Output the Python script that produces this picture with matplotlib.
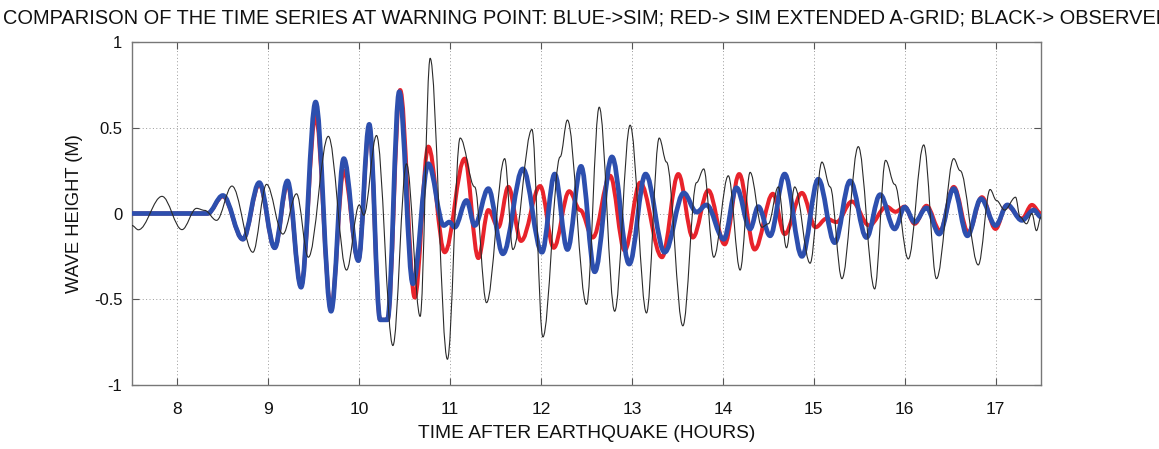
import matplotlib
matplotlib.use("Agg")
import matplotlib.pyplot as plt
from matplotlib import font_manager
from matplotlib.path import Path
from matplotlib.patches import PathPatch

# ---------------- data (extrema / turning points) ----------------
blue_t = [7.50, 8.33, 8.50, 8.72, 8.90, 9.07, 9.21, 9.36, 9.52, 9.69, 9.83, 9.99,
          10.11, 10.23, 10.31, 10.44, 10.59, 10.76, 10.93, 10.99, 11.05, 11.18, 11.27,
          11.42, 11.58, 11.80, 12.01, 12.15, 12.29, 12.44, 12.59, 12.78, 12.97, 13.15,
          13.36, 13.57, 13.71, 13.82, 14.01, 14.15, 14.30, 14.39, 14.52, 14.68, 14.87,
          15.05, 15.23, 15.40, 15.58, 15.73, 15.89, 16.00, 16.11, 16.24, 16.38, 16.54,
          16.69, 16.84, 17.00, 17.13, 17.29, 17.42, 17.50]
blue_v = [0.0, 0.0, 0.105, -0.15, 0.18, -0.20, 0.19, -0.43, 0.65, -0.57, 0.32, -0.275,
          0.52, -0.62, -0.62, 0.71, -0.41, 0.29, -0.07, -0.05, -0.08, 0.076, -0.07,
          0.145, -0.235, 0.26, -0.226, 0.23, -0.21, 0.275, -0.34, 0.33, -0.295, 0.23,
          -0.226, 0.12, 0.008, 0.05, -0.15, 0.15, -0.09, 0.04, -0.13, 0.23, -0.25,
          0.20, -0.17, 0.19, -0.14, 0.11, -0.09, 0.037, -0.05, 0.033, -0.12, 0.145,
          -0.13, 0.086, -0.07, 0.05, -0.04, 0.02, -0.02]

red_t = [7.50, 8.33, 8.50, 8.72, 8.90, 9.07, 9.21, 9.36, 9.52, 9.69, 9.83, 9.99,
         10.11, 10.23, 10.31, 10.45, 10.61, 10.76, 10.94, 11.16, 11.31, 11.42, 11.53,
         11.64, 11.78, 11.99, 12.14, 12.31, 12.43, 12.57, 12.76, 12.92, 13.09, 13.33,
         13.51, 13.67, 13.84, 14.02, 14.18, 14.35, 14.55, 14.68, 14.87, 15.02, 15.14,
         15.25, 15.42, 15.61, 15.80, 15.90, 16.00, 16.11, 16.24, 16.39, 16.54, 16.70,
         16.85, 17.00, 17.12, 17.29, 17.40, 17.50]
red_v = [0.0, 0.0, 0.10, -0.15, 0.17, -0.20, 0.17, -0.42, 0.57, -0.55, 0.25, -0.27,
         0.50, -0.62, -0.62, 0.72, -0.49, 0.39, -0.226, 0.32, -0.26, 0.02, -0.08,
         0.155, -0.16, 0.16, -0.20, 0.13, 0.02, -0.14, 0.22, -0.216, 0.18, -0.255,
         0.23, -0.14, 0.135, -0.18, 0.23, -0.21, 0.115, -0.12, 0.12, -0.08, -0.03,
         -0.05, 0.07, -0.07, 0.04, 0.01, 0.04, -0.06, 0.045, -0.10, 0.155, -0.11,
         0.095, -0.09, 0.047, -0.03, 0.05, 0.0]

black_t = [7.50, 7.57, 7.83, 8.05, 8.21, 8.30, 8.43, 8.60, 8.83, 8.98, 9.16, 9.31,
           9.44, 9.66, 9.86, 10.00, 10.05, 10.19, 10.37, 10.52, 10.67, 10.78, 10.97,
           11.11, 11.27, 11.40, 11.60, 11.69, 11.90, 12.02, 12.21, 12.29, 12.50, 12.64,
           12.81, 12.98, 13.16, 13.30, 13.38, 13.56, 13.71, 13.79, 13.90, 14.06, 14.19,
           14.30, 14.43, 14.50, 14.61, 14.70, 14.79, 14.96, 15.09, 15.18, 15.31, 15.49,
           15.67, 15.79, 15.89, 16.04, 16.21, 16.35, 16.54, 16.61, 16.81, 16.94, 17.01,
           17.10, 17.22, 17.27, 17.34, 17.40, 17.45, 17.50]
black_v = [-0.07, -0.095, 0.10, -0.094, 0.03, 0.018, -0.04, 0.16, -0.226, 0.17, -0.12,
           0.115, -0.255, 0.45, -0.33, 0.05, -0.01, 0.455, -0.77, 0.29, -0.60, 0.905,
           -0.85, 0.44, 0.155, -0.52, 0.32, -0.21, 0.49, -0.72, 0.33, 0.545, -0.53,
           0.62, -0.57, 0.515, -0.58, 0.44, 0.30, -0.655, 0.18, 0.26, -0.255, 0.22,
           -0.33, 0.24, -0.08, -0.06, 0.155, -0.20, 0.155, -0.29, 0.30, 0.155, -0.38,
           0.39, -0.44, 0.31, 0.17, -0.265, 0.40, -0.38, 0.32, 0.25, -0.30, 0.14,
           0.076, 0.02, 0.095, -0.02, -0.06, 0.0, -0.10, -0.02]

x_ticks = [8, 9, 10, 11, 12, 13, 14, 15, 16, 17]
y_ticks = [-1, -0.5, 0, 0.5, 1]
y_tick_labels = ["-1", "-0.5", "0", "0.5", "1"]

title_text = ("COMPARISON OF THE TIME SERIES AT WARNING POINT: BLUE->SIM; "
              "RED-> SIM EXTENDED A-GRID; BLACK-> OBSERVED")
x_label = "TIME AFTER EARTHQUAKE (HOURS)"
y_label = "WAVE HEIGHT (M)"


def smooth_trace(ax, ts, vs, **kw):
    """Draw a smooth wave through turning points (horizontal tangent at each)."""
    verts = [(ts[0], vs[0])]
    codes = [Path.MOVETO]
    for (t0, v0), (t1, v1) in zip(zip(ts[:-1], vs[:-1]), zip(ts[1:], vs[1:])):
        d = (t1 - t0) * 0.36
        verts += [(t0 + d, v0), (t1 - d, v1), (t1, v1)]
        codes += [Path.CURVE4] * 3
    patch = PathPatch(Path(verts, codes), fill=False, transform=ax.transData,
                      capstyle="round", joinstyle="round", **kw)
    ax.add_patch(patch)


# ---------------- style ----------------
plt.rcParams["font.family"] = ["Liberation Sans", "DejaVu Sans"]

W, H = 1159, 449
fig = plt.figure(figsize=(W / 100, H / 100), dpi=100)
ax = fig.add_axes([132 / W, 1 - 385 / H, (1041 - 132) / W, (385 - 42) / H])

smooth_trace(ax, red_t, red_v, edgecolor="#e8232b", lw=2.9, zorder=3)
smooth_trace(ax, blue_t, blue_v, edgecolor="#2d4fae", lw=3.4, zorder=4)
smooth_trace(ax, black_t, black_v, edgecolor="#2a2a2a", lw=0.8, zorder=5)

ax.set_xlim(7.5, 17.5)
ax.set_ylim(-1, 1)
ax.set_xticks(x_ticks)
ax.set_yticks(y_ticks)
ax.set_yticklabels(y_tick_labels)
ax.grid(True, linestyle=(0, (1, 2.5)), color="#9a9a9a", lw=0.7)
ax.tick_params(direction="in", top=True, right=True, length=5, width=0.8,
               colors="#555555", labelcolor="#111111", labelsize=12)
ax.tick_params(axis="x", pad=12, labelsize=12.5)
ax.tick_params(axis="y", pad=7)
for s in ax.spines.values():
    s.set_color("#777777")
    s.set_linewidth(1.0)

ax.set_xlabel(x_label, fontsize=13.8, labelpad=6, color="#111111")
ax.set_ylabel(y_label, fontsize=13.2, labelpad=8, color="#111111")

fig.text(3 / W, 1 - 18 / H, title_text, ha="left", va="center", fontsize=14.4,
         color="#111111")

fig.savefig("out.png", dpi=100)
